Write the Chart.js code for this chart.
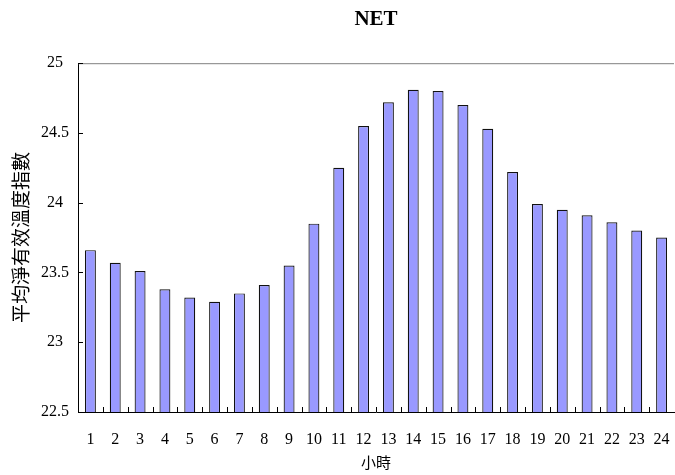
<!DOCTYPE html>
<html lang="zh-Hant">
<head>
  <meta charset="UTF-8">
  <title>NET</title>
  <script src="https://cdn.jsdelivr.net/npm/chart.js"></script>
  <style>
    html, body { margin: 0; padding: 0; background: #fff; }
    #wrap { position: relative; width: 675px; height: 475px; }
  </style>
</head>
<body>
  <div id="wrap">
    <canvas id="netChart"></canvas>
  </div>

  <script>
    // hours and average net effective temperature index
    const hours = ['1', '2', '3', '4', '5', '6', '7', '8', '9', '10', '11', '12',
                   '13', '14', '15', '16', '17', '18', '19', '20', '21', '22', '23', '24'];
    const netValues = [23.66, 23.57, 23.51, 23.38, 23.32, 23.29, 23.35, 23.41, 23.55, 23.85, 24.25, 24.55,
                       24.72, 24.81, 24.80, 24.70, 24.53, 24.22, 23.99, 23.95, 23.91, 23.86, 23.80, 23.75];
    const yMin = 22.5;
    const yMax = 25;
    const yStep = 0.5;

    const serif = '"Liberation Serif", "Times New Roman", serif';
    const cjk = '"Noto Sans CJK TC", "Noto Sans CJK SC", sans-serif';

    // small inward tick marks plus the grey top frame line
    const frameTicks = {
      id: 'frameTicks',
      afterDraw(chart) {
        const { ctx, chartArea, scales } = chart;
        const x = scales.x, y = scales.y;
        ctx.save();
        ctx.lineWidth = 1;

        // top line
        ctx.strokeStyle = '#808080';
        ctx.beginPath();
        ctx.moveTo(chartArea.left, chartArea.top + 0.5);
        ctx.lineTo(chartArea.right, chartArea.top + 0.5);
        ctx.stroke();

        // y ticks, pointing right
        ctx.strokeStyle = '#000';
        y.ticks.forEach(t => {
          const py = Math.round(y.getPixelForValue(t.value)) + 0.5;
          ctx.beginPath();
          ctx.moveTo(chartArea.left, py);
          ctx.lineTo(chartArea.left + 5, py);
          ctx.stroke();
        });

        // x ticks between categories, pointing up
        for (let i = 0; i < hours.length - 1; i++) {
          const px = Math.round((x.getPixelForValue(i) + x.getPixelForValue(i + 1)) / 2) + 0.5;
          ctx.beginPath();
          ctx.moveTo(px, chartArea.bottom);
          ctx.lineTo(px, chartArea.bottom - 5);
          ctx.stroke();
        }
        ctx.restore();
      }
    };

    const ctx = document.getElementById('netChart').getContext('2d');
    new Chart(ctx, {
      type: 'bar',
      data: {
        labels: hours,
        datasets: [{
          label: 'NET',
          data: netValues,
          backgroundColor: '#9999FF',
          borderColor: '#111',
          borderWidth: 1.2,
          borderSkipped: 'bottom',
          barPercentage: 0.44,
          categoryPercentage: 1.0
        }]
      },
      options: {
        responsive: true,
        maintainAspectRatio: false,
        animation: false,
        layout: { padding: { left: 0, right: 1, top: 0, bottom: 0 } },
        plugins: {
          legend: { display: false },
          tooltip: { enabled: false },
          title: {
            display: true,
            fullSize: false,
            text: 'NET',
            color: '#000',
            font: { family: serif, size: 21, weight: 'bold' },
            padding: { top: 7, bottom: 31 }
          }
        },
        scales: {
          x: {
            grid: { display: false, drawTicks: false },
            border: { display: true, color: '#000', width: 1 },
            ticks: {
              color: '#000',
              font: { family: serif, size: 16 },
              padding: 18,
              maxRotation: 0,
              autoSkip: false
            },
            title: {
              display: true,
              text: '小時',
              color: '#000',
              font: { family: cjk, size: 15 },
              padding: { top: 0, bottom: 4 }
            },
            afterFit(scale) {
              scale.height = 63;
              scale.paddingLeft = 0;
              scale.paddingRight = 0;
            }
          },
          y: {
            min: yMin,
            max: yMax,
            grid: { display: false, drawTicks: false },
            border: { display: true, color: '#000', width: 1 },
            ticks: {
              stepSize: yStep,
              color: '#000',
              font: { family: serif, size: 16 },
              padding: 9,
              crossAlign: 'center',
              callback: v => String(Math.round(v * 10) / 10)
            },
            title: {
              display: true,
              text: '平均淨有效溫度指數',
              color: '#000',
              font: { family: cjk, size: 19 },
              padding: { top: 9, bottom: 0 }
            },
            afterFit(scale) { scale.width = 78; }
          }
        }
      },
      plugins: [frameTicks]
    });
  </script>
</body>
</html>
